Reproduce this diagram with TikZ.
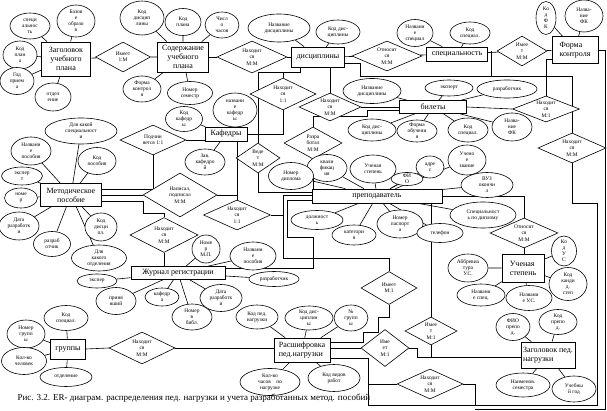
\documentclass[tikz,border=0pt]{standalone}
\usepackage{fontspec}
\setmainfont{Liberation Serif}
\usetikzlibrary{shapes.geometric, positioning, backgrounds}

\begin{document}
\begin{tikzpicture}[x=1pt, y=-1pt,
          ent/.style 2 args={draw, fill=white, line width=0.7pt, inner sep=1pt,
                      minimum width=#1pt, minimum height=#2pt, font=\fontsize{8}{9}\selectfont, align=center},
          attr/.style 2 args={ellipse, draw, fill=white, line width=0.6pt, inner sep=-1pt,
                      minimum width=#1pt, minimum height=#2pt, font=\fontsize{5.4}{6}\selectfont, align=center},
          rel/.style 2 args={diamond, aspect=2, draw, fill=white, line width=0.6pt, inner sep=0pt,
                      minimum width=#1pt, minimum height=#2pt, font=\fontsize{5.4}{6.4}\selectfont, align=center},
          link/.style={line width=0.6pt},
        ]
\useasboundingbox (0,0) rectangle (607,411);

% entities
\node[ent={49}{34}] (plan) at (66,59) {Заголовок\\учебного\\плана};
\node[ent={51}{30}] (cont) at (183,57) {Содержание\\учебного\\плана};
\node[ent={53}{20}] (disc) at (318,57) {дисциплины};
\node[ent={61}{14}] (spec) at (457,54) {специальность};
\node[ent={46}{27}, align=left] (fk) at (575,50) {Форма\\контроля};
\node[ent={67}{13}] (bil) at (433,107) {билеты};
\node[ent={42}{14}] (kaf) at (226,134) {Кафедры};
\node[ent={61}{23}] (mp) at (71,195) {Методическое\\пособие};
\node[ent={130}{14}] (prep) at (377,196) {преподаватель};
\node[ent={42}{28}, align=left] (us) at (523,268) {Ученая\\степень};
\node[ent={94}{13}] (jr) at (178,273) {Журнал регистрации};
\node[ent={35}{20}] (gr) at (68,349) {группы};
\node[ent={56}{24}, align=left] (rasp) at (302,350) {Расшифровка\\пед.нагрузки};
\node[ent={54}{26}, align=left] (zpn) at (548,355) {Заголовок пед.\\нагрузки};

% relations
\node[rel={55}{30}] (r_plan) at (123,57) {Имеет\\1:М};
\node[rel={70}{32}] (r_cd) at (252,57) {Находит\\ся\\М:М};
\node[rel={70}{30}] (r_ds) at (387,56) {Относит\\ся\\М:М};
\node[rel={50}{30}] (r_sf) at (522,51) {Имее\\т\\М:М};
\node[rel={66}{32}] (r_kd) at (283,94) {Находит\\ся\\1:1};
\node[rel={62}{28}] (r_db) at (330,107) {Находит\\ся\\М:М};
\node[rel={67}{25}] (r_bf) at (546,109) {Находит\\ся\\М:1};
\node[rel={68}{30}] (r_right) at (572,148) {Находит\\ся\\М:М};
\node[rel={66}{30}] (r_podch) at (153,140) {Подчин\\яется 1:1};
\node[rel={40}{30}] (r_ved) at (258,158) {Веде\\т\\М:М};
\node[rel={58}{32}] (r_razr) at (313,143) {Разра\\ботал\\М:М};
\node[rel={74}{44}] (r_nap) at (180,195) {Написал,\\подписал\\М:М};
\node[rel={67}{30}] (r_kp) at (237,215) {Находит\\ся\\1:1};
\node[rel={68}{35}] (r_mj) at (164,235) {Находит\\ся\\М:М};
\node[rel={68}{30}] (r_ps) at (524,233) {Относит\\ся\\М:М};
\node[rel={56}{33}] (r_pr) at (389,288) {Имеет\\М:1};
\node[rel={52}{28}] (r_pz) at (431,331) {Имее\\т\\М:1};
\node[rel={48}{37}] (r_rz) at (385,348) {Име\\ет\\М:1};
\node[rel={66}{30}] (r_rb) at (430,384) {Находит\\ся\\М:М};
\node[rel={66}{32}] (r_gr) at (142,348) {Находит\\ся\\М:М};

% attributes
\node[attr={40}{26}] (a_pl1) at (30,26) {специ\\альнос\\ть};
\node[attr={38}{32}] (a_pl2) at (76,21) {Базов\\е\\образо\\в};
\node[attr={34}{28}] (a_pl3) at (20,55) {Код\\план\\а};
\node[attr={34}{27}] (a_pl4) at (17,81) {Год\\прием\\а};
\node[attr={36}{28}] (a_pl5) at (53,97) {отдел\\ение};
\node[attr={44}{34}] (a_c1) at (142,18) {Код\\дисцип\\лины};
\node[attr={36}{27}] (a_c2) at (183,22) {Код\\плана};
\node[attr={34}{26}] (a_c3) at (222,25) {Числ\\о\\часов};
\node[attr={38}{26}] (a_c4) at (142,89) {Форма\\контрол\\я};
\node[attr={45}{23}] (a_c5) at (190,93) {Номер\\семестр};
\node[attr={37}{25}] (a_k1) at (184,119) {Код\\кафедр\\ы};
\node[attr={44}{34}] (a_k2) at (235,110) {названи\\е\\кафедр\\ы};
\node[attr={40}{26}] (a_k3) at (205,162) {Зав.\\кафедро\\й};
\node[attr={62}{28}] (a_d1) at (279,28) {Название\\дисциплины};
\node[attr={44}{24}] (a_d2) at (338,32) {Код дис-\\циплины};
\node[attr={36}{27}] (a_s1) at (415,33) {Названи\\е\\специал};
\node[attr={40}{22}] (a_s2) at (470,33) {Код\\специал.};
\node[attr={20}{33}] (a_f1) at (546,18) {Ко\\д\\Ф\\К};
\node[attr={38}{32}] (a_f2) at (584,16) {Назва-\\ние\\ФК};
\node[attr={58}{25}] (a_b1) at (372,91) {Название\\дисциплины};
\node[attr={48}{16}] (a_b2) at (449,88) {эксперт};
\node[attr={60}{18}] (a_b3) at (507,89) {разработчик};
\node[attr={48}{22}] (a_b4) at (372,130) {Код дис-\\циплины};
\node[attr={40}{22}] (a_b5) at (417,131) {Форма\\обучени\\я};
\node[attr={40}{24}] (a_b6) at (468,130) {Код\\специал.};
\node[attr={40}{28}] (a_b7) at (512,127) {Назва-\\ние\\ФК};
\node[attr={72}{26}] (a_m1) at (81,131) {Для какой\\специальност\\и};
\node[attr={40}{28}] (a_m2) at (31,151) {Названи\\е\\пособия};
\node[attr={38}{27}] (a_m3) at (97,161) {Код\\пособия};
\node[attr={41}{18}] (a_m4) at (22,176) {экспер\\т};
\node[attr={33}{20}] (a_m5) at (21,198) {номе\\р};
\node[attr={40}{28}] (a_m6) at (19,226) {Дата\\разработк\\и};
\node[attr={37}{25}] (a_m7) at (52,244) {разраб\\отчик};
\node[attr={32}{28}] (a_m8) at (101,227) {Код\\дисци\\пл.};
\node[attr={55}{26}] (a_m9) at (99,258) {Для\\какого\\отделения};
\node[attr={40}{14}] (a_j1) at (97,281) {экспер};
\node[attr={40}{27}] (a_j2) at (116,301) {приня\\вший};
\node[attr={34}{18}] (a_j3) at (162,297) {кафедр\\а};
\node[attr={40}{26}] (a_j4) at (192,317) {Номер\\в\\библ.};
\node[attr={42}{27}] (a_j5) at (221,298) {Дата\\разработк\\и};
\node[attr={50}{15}] (a_j6) at (274,279) {разработчик};
\node[attr={28}{28}] (a_j7) at (206,249) {Номе\\р\\М.П.};
\node[attr={46}{28}] (a_j8) at (253,256) {Названи\\е\\пособия};
\node[attr={44}{25}] (a_g1) at (66,318) {Код\\специал.};
\node[attr={38}{28}] (a_g2) at (26,334) {Номер\\групп\\ы};
\node[attr={45}{27}] (a_g3) at (24,361) {Кол-во\\человек};
\node[attr={52}{19}] (a_g4) at (66,377) {отделение};
\node[attr={42}{24}] (a_r1) at (257,317) {Код пед.\\нагрузки};
\node[attr={48}{24}] (a_r2) at (309,318) {Код дис-\\циплин\\ы};
\node[attr={34}{26}] (a_r3) at (351,318) {№\\групп\\ы};
\node[attr={60}{27}] (a_r4) at (270,382) {Кол-во\\часов\quad по\\нагрузке};
\node[attr={52}{27}] (a_r5) at (334,378) {Код видов\\работ};
\node[attr={40}{27}] (a_p1) at (327,168) {квали\\фикац\\ия};
\node[attr={46}{28}] (a_p2) at (373,169) {Ученая\\степень};
\node[attr={32}{13}] (a_p3) at (407,179) {ФИ\\О};
\node[attr={28}{22}] (a_p4) at (430,167) {адре\\с};
\node[attr={45}{27}] (a_p5) at (291,176) {Номер\\диплома};
\node[attr={38}{30}] (a_p6) at (467,160) {Учено\\е\\звание};
\node[attr={52}{25}] (a_p7) at (487,185) {ВУЗ\\окончи\\л};
\node[attr={66}{26}] (a_p8) at (483,215) {Специальност\\ь по диплому};
\node[attr={52}{19}] (a_p9) at (317,220) {должност\\ь};
\node[attr={44}{20}] (a_p10) at (354,235) {категори\\я};
\node[attr={46}{28}] (a_p11) at (400,224) {Номер\\паспорт\\а};
\node[attr={46}{19}] (a_p12) at (440,233) {телефон};
\node[attr={40}{28}] (a_u1) at (468,268) {Аббревиа\\тура\\У.С.};
\node[attr={25}{30}] (a_u2) at (564,251) {Ко\\д\\У\\С};
\node[attr={38}{33}] (a_u3) at (568,284) {Код\\канди\\д.\\степ};
\node[attr={48}{22}] (a_u4) at (481,295) {Названи\\е спец.};
\node[attr={46}{25}] (a_u5) at (529,298) {Названи\\е У.С.};
\node[attr={34}{27}] (a_z1) at (513,327) {ФИО\\препо\\д.};
\node[attr={38}{25}] (a_z2) at (558,322) {Код\\препо\\д.};
\node[attr={54}{24}] (a_z3) at (523,385) {Наименов.\\семестра};
\node[attr={44}{26}] (a_z4) at (574,389) {Учебны\\й год};

\node[anchor=west, font=\fontsize{9}{10}\selectfont] (cap) at (14,398)
  {Рис. 3.2. ER- диаграм. распределения пед. нагрузки и учета разработанных метод. пособий};

\begin{scope}[on background layer]
% attributes to entities
\draw[link] (plan) -- (a_pl1) (plan) -- (a_pl2) (plan) -- (a_pl3) (plan) -- (a_pl4) (plan) -- (a_pl5);
\draw[link] (cont) -- (a_c1) (cont) -- (a_c2) (cont) -- (a_c3) (cont) -- (a_c4) (cont) -- (a_c5);
\draw[link] (kaf) -- (a_k1) (kaf) -- (a_k2) (kaf) -- (a_k3);
\draw[link] (disc) -- (a_d1) (disc) -- (a_d2);
\draw[link] (spec) -- (a_s1) (spec) -- (a_s2);
\draw[link] (fk) -- (a_f1) (fk) -- (a_f2);
\draw[link] (bil) -- (a_b1) (bil) -- (a_b2) (bil) -- (a_b3) (bil) -- (a_b4) (bil) -- (a_b5) (bil) -- (a_b6) (bil) -- (a_b7);
\draw[link] (mp) -- (a_m1) (mp) -- (a_m2) (mp) -- (a_m3) (mp) -- (a_m4) (mp) -- (a_m5) (mp) -- (a_m6) (mp) -- (a_m7) (mp) -- (a_m8) (mp) -- (a_m9);
\draw[link] (jr) -- (a_j1) (jr) -- (a_j2) (jr) -- (a_j3) (jr) -- (a_j4) (jr) -- (a_j5) (jr) -- (a_j6) (jr) -- (a_j7) (jr) -- (a_j8);
\draw[link] (gr) -- (a_g1) (gr) -- (a_g2) (gr) -- (a_g3) (gr) -- (a_g4);
\draw[link] (rasp) -- (a_r1) (rasp) -- (a_r2) (rasp) -- (a_r3) (rasp) -- (a_r4) (rasp) -- (a_r5);
\draw[link] (prep) -- (a_p1) (prep) -- (a_p2) (prep) -- (a_p3) (prep) -- (a_p4) (prep) -- (a_p5) (prep) -- (a_p6);
\draw[link] (prep) -- (a_p7) (prep) -- (a_p8) (prep) -- (a_p9) (prep) -- (a_p10) (prep) -- (a_p11) (prep) -- (a_p12);
\draw[link] (us) -- (a_u1) (us) -- (a_u2) (us) -- (a_u3) (us) -- (a_u4) (us) -- (a_u5);
\draw[link] (zpn) -- (a_z1) (zpn) -- (a_z2) (zpn) -- (a_z3) (zpn) -- (a_z4);
% relations
\draw[link] (plan) -- (r_plan) -- (cont);
\draw[link] (cont) -- (r_cd) -- (disc);
\draw[link] (disc) -- (r_ds) -- (spec);
\draw[link] (spec) -- (r_sf) -- (fk);
\draw[link] ([xshift=-18pt]disc.south) |- (r_ved.north |- 0,72) -- (r_ved.north);
\draw[link] (r_ved.south) |- ([yshift=4pt]prep.west);
\draw[link] (kaf.east) -| (r_kd.south);
\draw[link] (r_kd.north) -- ++(0,-6);
\draw[link] (disc.south -| r_db) -- (r_db.north);
\draw[link] (r_db.east) -- (r_db.east -| bil.west);
\draw[link] (r_razr.south) -- (r_razr.south |- prep.north);
\draw[link] (r_razr.north) |- (367,116) |- ([yshift=-3pt]bil.west);
\draw[link] (bil.east) -- (r_bf.west);
\draw[link] (r_bf.north) |- ([yshift=-9pt]fk.west);
\draw[link] ([yshift=-6pt]disc.east) -| (360,76) -| (r_right.north);
\draw[link] ([xshift=-5pt]r_sf.west) -- ++(0,25);
\draw[link] (r_right.south) |- (597,203) |- (368,405) |- (r_rb.west);
\draw[link] ([yshift=-8pt]rasp.east) -| (368,384);
\draw[link] (r_rb.east) -| (475,405);
\draw[link] (fk.east) -| (605,409) -- (475,409);
\draw[link] (r_ps.north) |- (prep.east);
\draw[link] (r_ps.south) -- (r_ps.south |- us.north);
\draw[link] ([yshift=1pt]prep.west) -| (283,258) -| (r_pr.north);
\draw[link] (r_pr.south) |- (378,317) |- (363,332) |- ([yshift=8pt]rasp.east);
\draw[link] ([yshift=5pt]jr.east) -| (313,237) -| (287,200) -- ([yshift=-4pt]prep.west);
\draw[link] (kaf.south -| r_kp) -- (r_kp.north);
\draw[link] (r_kp.east) -- ++(12.5,0);
\draw[link] (mp.east) -- (r_nap.west);
\draw[link] (r_nap.east) -- (r_nap.east -| r_kp);
\draw[link] ([yshift=6pt]mp.east) -| (r_podch.south);
\draw[link] (r_podch.east) -- (r_podch.east -| kaf.west);
\draw[link] ([yshift=-6pt]mp.east) -| (143,213) -| (r_mj.north);
\draw[link] (r_mj.south) -- (r_mj.south |- jr.north);
\draw[link] (gr.east) -- (r_gr.west);
\draw[link] (r_gr.east) -- (r_gr.east -| rasp.west);
\draw[link] (r_pz.north) -- (r_pz.north |- prep.south);
\draw[link] (r_pz.south) |- ([yshift=-2pt]zpn.west);
\draw[link] (rasp.east |- r_rz) -- (r_rz.west);
\draw[link] (r_rz.east) -| (417,357) -- ([yshift=-2pt]zpn.west);
\end{scope}
\end{tikzpicture}
\end{document}
